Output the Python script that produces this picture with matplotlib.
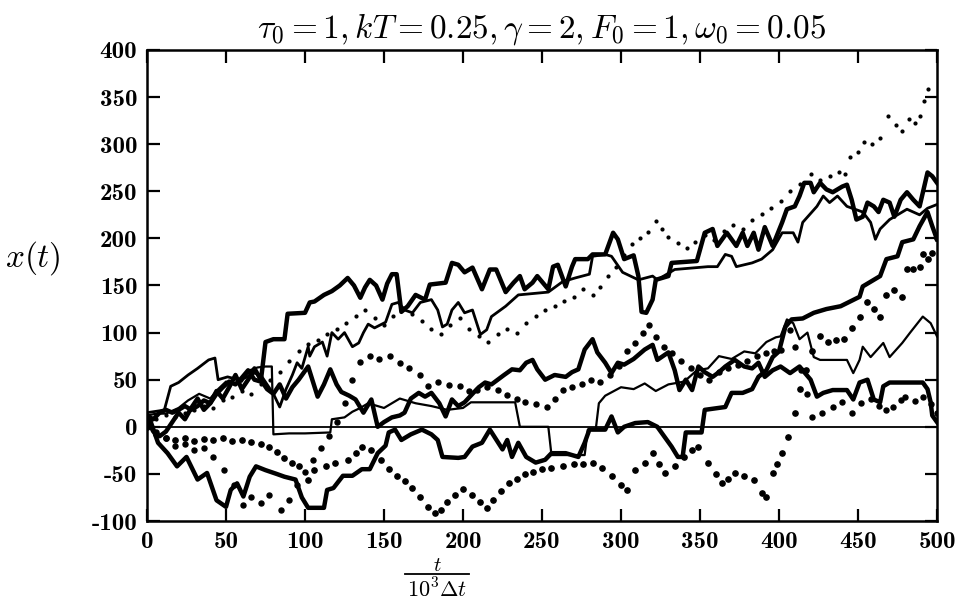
import matplotlib
matplotlib.use("Agg")
import matplotlib.pyplot as plt
from matplotlib.lines import Line2D

plt.rcParams['mathtext.fontset'] = 'cm'

# ---- thick solid trajectory A (top) ----
a_t = [0,4,8,12,16,20,24,28,32,36,40,44,48,52,56,60,64,68,72,75,80,87,89,100,103,106,112,117,122,127,131,135,138,141,145,149,152,155,158,161,165,170,176,179,189,193,197,201,206,212,217,221,227,232,236,239,244,247,254,257,260,265,269,271,279,282,290,295,298,302,308,311,313,316,320,322,330,332,348,353,358,361,367,373,377,380,384,387,391,396,402,405,410,413,416,420,422,426,430,434,440,443,446,449,453,456,460,463,466,470,473,477,481,485,489,494,497,500]
a_x = [12,8,15,18,15,18,22,18,22,28,25,35,42,48,45,52,60,50,48,90,93,93,120,121,132,133,140,144,150,158,150,137,148,156,150,135,152,162,162,122,128,140,135,151,153,174,172,164,169,146,167,167,143,153,160,146,153,160,146,170,172,149,170,178,178,183,183,206,199,178,182,160,122,121,135,156,160,174,176,206,210,192,206,192,206,192,206,188,212,192,217,231,234,245,259,259,249,259,252,249,255,257,241,220,223,238,234,228,241,238,223,241,249,241,234,270,266,259]

# ---- solid trajectory B (upper, thinner) ----
b_t = [0,8,11,15,20,26,32,39,43,45,51,58,62,68,72,76,80,84,88,92,95,98,102,103,106,111,114,117,121,125,130,134,137,140,144,151,155,159,163,168,173,180,184,187,190,193,197,201,206,211,215,218,227,235,254,263,271,280,282,290,294,301,311,320,323,334,355,361,366,370,373,383,389,396,402,409,412,415,424,428,432,437,443,453,458,461,464,470,481,489,494,500]
b_x = [15,17,18,43,47,55,62,71,73,50,53,50,52,57,55,45,35,21,40,55,68,62,85,75,85,90,75,100,93,100,85,89,100,109,105,111,130,132,124,121,132,135,124,106,109,124,132,121,124,98,103,117,128,140,143,154,158,162,181,183,181,164,156,160,156,167,170,170,183,181,170,174,178,188,206,206,196,217,234,245,238,245,234,228,217,199,210,220,231,225,232,236]

# ---- thin solid trajectory C ----
c_t = [0,6,12,20,26,33,40,45,50,55,60,65,70,75,79,80,90,100,116,117,125,130,135,140,150,160,170,180,190,200,205,233,236,254,256,277,279,284,286,290,300,308,315,322,330,340,348,355,362,370,378,385,392,398,401,405,409,413,418,422,426,443,447,451,453,458,466,470,478,483,491,496,500]
c_x = [12,14,14,20,28,35,30,40,48,46,48,60,63,64,64,-8,-7,-7,-6,8,10,16,20,25,20,30,25,22,18,20,26,26,0,0,-30,-30,-3,-3,25,33,42,40,46,38,45,48,60,62,75,72,80,78,90,95,96,114,110,93,100,74,71,71,57,71,85,74,89,74,89,100,117,110,96]

# ---- thick solid trajectory D (low start, late rise) ----
d_t = [0,2,7,13,19,25,32,38,44,50,53,57,61,65,69,75,82,87,94,98,102,112,114,118,124,130,136,141,146,151,153,157,161,167,174,180,184,187,197,201,206,212,217,225,228,231,235,240,246,252,256,265,273,277,280,290,294,298,302,309,317,323,332,336,339,341,351,353,366,370,377,383,387,392,396,400,404,408,415,422,430,439,451,453,464,468,475,478,485,489,494,497,500]
d_x = [5,7,-17,-28,-42,-32,-56,-49,-78,-85,-67,-60,-74,-53,-42,-46,-50,-53,-56,-75,-86,-86,-67,-65,-52,-52,-45,-45,-28,-20,-6,-3,-14,-8,-3,-8,-14,-32,-33,-32,-21,-17,-3,-24,-14,-32,-17,-32,-38,-35,-28,-28,-32,-17,-3,-3,11,-6,0,4,5,0,-21,-32,-32,-6,-6,18,21,36,36,40,53,60,74,80,106,114,115,121,125,128,138,149,160,178,181,196,199,213,228,213,199]

# ---- thick solid trajectory E (ends low) ----
e_t = [0,4,8,12,16,20,24,28,32,36,40,44,48,52,56,60,64,68,72,76,80,84,88,92,96,102,108,112,116,120,123,128,132,137,142,146,150,155,160,163,167,172,176,180,185,189,193,197,201,206,210,214,218,222,226,231,236,240,244,247,252,258,265,269,273,277,282,285,290,294,298,302,308,315,320,323,330,334,337,341,345,349,353,358,362,366,372,378,383,387,391,396,401,407,413,420,424,428,434,443,447,451,456,460,464,466,470,491,494,496,497,500]
e_x = [8,-5,-10,-5,5,15,8,20,30,18,25,38,30,42,55,40,50,62,50,40,35,45,30,42,50,64,32,45,61,45,37,33,29,15,29,0,5,10,12,15,30,36,32,36,25,11,29,22,26,35,42,47,45,50,55,61,60,68,71,61,50,55,53,58,61,82,93,79,68,57,68,66,72,82,87,71,79,60,39,50,39,64,58,53,58,64,71,64,62,68,53,60,64,57,64,50,32,36,39,39,29,47,50,29,26,43,47,47,40,26,12,5]

# ---- dotted trajectory G (large dots, low, late rise) ----
g_t = [0,6,12,18,24,30,36,42,48,54,60,66,72,77,82,87,92,96,102,106,113,119,127,132,136,142,148,153,158,163,168,173,178,182,186,190,195,200,206,211,215,219,224,229,234,239,244,250,256,263,270,276,282,288,294,300,304,309,315,320,324,328,334,340,345,349,355,360,364,368,372,378,384,389,392,396,399,402,406,410,413,417,421,426,431,436,441,446,451,456,460,464,468,473,478,481,485,489,491,494,497,500]
g_x = [0,-8,-12,-14,-12,-15,-13,-14,-12,-15,-14,-16,-18,-21,-27,-33,-38,-42,-56,-46,-42,-38,-35,-28,-21,-25,-35,-45,-52,-58,-65,-75,-85,-92,-88,-80,-72,-66,-72,-80,-86,-78,-68,-60,-55,-50,-48,-45,-44,-42,-40,-39,-38,-44,-52,-62,-67,-46,-38,-28,-40,-49,-42,-32,-25,-21,-38,-50,-60,-55,-49,-52,-56,-70,-75,-49,-40,-28,-11,15,40,60,80,96,90,92,93,105,117,132,125,117,140,145,138,167,168,170,183,178,185,200]

# ---- dotted trajectory H (small dots, upper) ----
h_t = [0,6,12,18,24,30,36,42,48,54,60,66,72,78,84,90,96,102,108,114,120,126,132,138,144,150,156,162,168,174,180,186,192,198,204,210,216,222,228,234,240,246,252,258,264,270,276,282,287,292,297,302,307,312,317,322,326,330,336,342,347,353,359,365,371,377,383,389,395,401,407,413,420,426,432,438,442,445,450,454,459,464,469,474,478,482,486,489,492,494]
h_x = [5,8,12,10,15,18,22,20,28,32,38,35,45,50,58,70,80,88,92,98,104,110,118,124,115,108,118,126,120,112,104,98,108,116,104,96,90,98,104,100,110,118,124,128,134,138,146,140,148,160,170,182,194,200,207,218,210,201,195,190,196,204,198,208,214,210,220,226,232,240,250,258,268,262,266,270,268,286,292,302,300,307,330,320,314,327,322,330,346,359]

# ---- dotted trajectory I (large dots, middle) ----
i_t = [0,6,12,18,24,30,36,42,49,55,61,66,72,77,85,90,95,100,105,110,115,120,125,130,135,141,147,154,160,166,173,178,184,191,198,204,209,215,222,228,234,239,246,253,258,263,269,275,281,287,293,299,304,309,314,318,322,327,332,338,344,350,356,362,368,374,380,386,392,397,401,407,410,414,418,421,427,434,440,446,452,458,463,468,472,477,480,486,491,496,500]
i_x = [5,-5,-12,-20,-18,-25,-22,-32,-46,-62,-83,-74,-81,-72,-88,-78,-62,-48,-35,-22,-10,5,25,50,69,75,72,75,68,62,55,43,48,44,43,38,39,42,39,34,30,26,24,21,30,39,42,45,50,48,55,65,80,89,100,108,95,85,78,70,62,55,50,58,62,66,70,75,78,80,82,103,85,60,35,10,15,21,26,15,25,30,22,18,21,28,32,27,32,24,15]

x_ticks = [0,50,100,150,200,250,300,350,400,450,500]
y_ticks = [-100,-50,0,50,100,150,200,250,300,350,400]
title_text = r"$\tau_0 = 1, kT = 0.25, \gamma = 2, F_0 = 1, \omega_0 = 0.05$"

fig = plt.figure(figsize=(9.61, 6.02), dpi=100)
ax = fig.add_axes([147/961, 1-521/602, (937-147)/961, (521-50)/602])

ax.axhline(0, color='black', lw=1.3, zorder=1)
ax.plot(a_t, a_x, color='black', lw=3.2, solid_joinstyle='round')
ax.plot(b_t, b_x, color='black', lw=2.0, solid_joinstyle='round')
ax.plot(c_t, c_x, color='black', lw=1.6, solid_joinstyle='round')
ax.plot(d_t, d_x, color='black', lw=3.2, solid_joinstyle='round')
ax.plot(e_t, e_x, color='black', lw=3.2, solid_joinstyle='round')
ax.plot(g_t, g_x, linestyle='none', marker='o', ms=3.8, color='black')
ax.plot(i_t, i_x, linestyle='none', marker='o', ms=3.6, color='black')
ax.plot(h_t, h_x, linestyle='none', marker='o', ms=2.0, color='black')

ax.set_xlim(0, 500)
ax.set_ylim(-100, 400)
ax.set_xticks(x_ticks)
ax.set_yticks(y_ticks)
ax.set_xticklabels([str(v) for v in x_ticks], fontfamily='cmb10', fontsize=18)
ax.set_yticklabels([str(v) for v in y_ticks], fontfamily='cmb10', fontsize=18)
ax.tick_params(direction='in', length=9, width=1.6, top=True, right=True, pad=7)
for s in ax.spines.values():
    s.set_linewidth(1.8)

ax.set_title(title_text, fontsize=24, pad=9)
fig.text(33/961, 1-258/602, r"$x(t)$", fontsize=24, ha='center', va='center')

# x-axis label: fraction t / (10^3 Δt), built compactly
fig.text(437/961, 1-571/602, r"$t$", fontsize=15, ha='center', va='baseline')
fig.text(437/961, 1-577/602, r"$10^3\Delta t$", fontsize=16, ha='center', va='top')
fig.add_artist(Line2D([405/961, 469/961], [1-574/602, 1-574/602], color='black', lw=1.3,
                      transform=fig.transFigure))

fig.savefig("out.png", dpi=100)
